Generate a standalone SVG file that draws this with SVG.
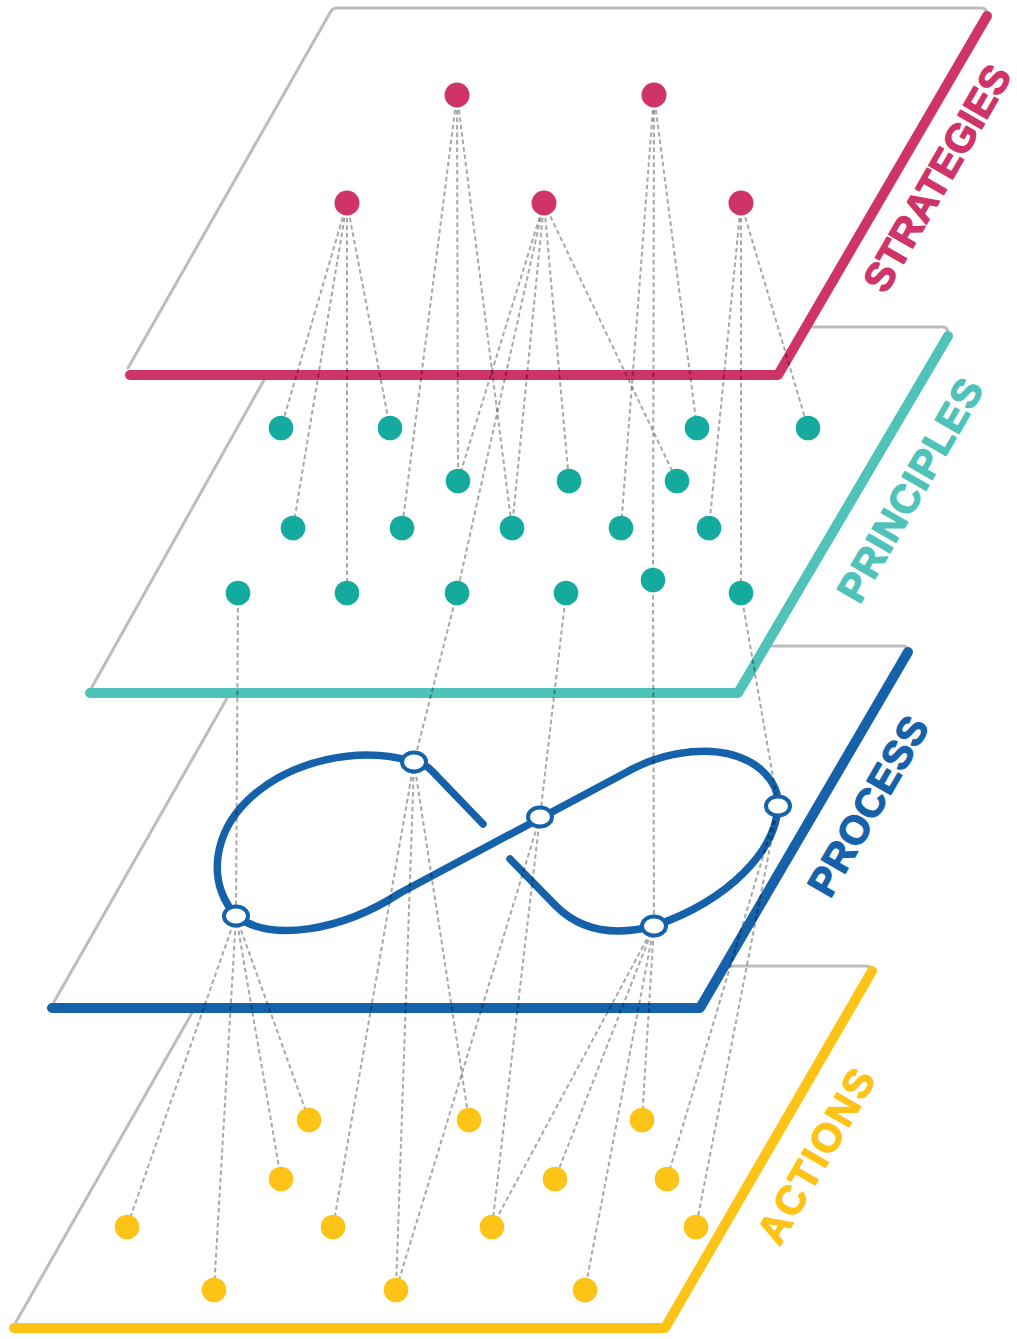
<svg xmlns="http://www.w3.org/2000/svg" width="1017" height="1339" viewBox="0 0 1017 1339">
<style>
.fill{fill:#fff;stroke:none}
.outline{fill:none;stroke:#bdbdbf;stroke-width:3;stroke-linejoin:round;stroke-linecap:round}
.edge{fill:none;stroke-width:10;stroke-linecap:round;stroke-linejoin:round}
#connectors line{stroke:#000;stroke-opacity:.34;stroke-width:2;stroke-dasharray:4.5 3}
.lbl{font-family:"Liberation Sans",Arial,sans-serif;font-weight:bold;font-size:40px;stroke-width:1.4;stroke-linejoin:round}
.s{fill:#cf3469}
.p{fill:#14aa9d}
.a{fill:#fec317}
.n{fill:#fff;stroke:#1562aa;stroke-width:4}
</style>

<g id="plane-actions">
<polygon class="fill" points="14,1328 219,966 871,966 665,1328"/>
<path class="outline" d="M16,1322 L217,969 Q219,966 223,966 L866,966 Q871,966 872,971"/>
<path class="edge" stroke="#fec317" d="M14,1328 L665,1328 L872,971"/>
<text class="lbl" fill="#fec317" stroke="#fec317" text-anchor="middle" textLength="194" lengthAdjust="spacing" transform="translate(816,1156) rotate(-60)" y="14">ACTIONS</text>
</g>

<g id="plane-process">
<polygon class="fill" points="52,1008 257,646 908,646 700,1008"/>
<path class="outline" d="M54,1002 L255,649 Q257,646 261,646 L903,646 Q908,646 908,652"/>
<path class="edge" stroke="#1562aa" d="M52,1008 L700,1008 L908,652"/>
<text class="lbl" fill="#1562aa" stroke="#1562aa" text-anchor="middle" textLength="200" lengthAdjust="spacing" transform="translate(868,806) rotate(-60)" y="14">PROCESS</text>
</g>

<g id="plane-principles">
<polygon class="fill" points="90,693 294,327 948,327 738,693"/>
<path class="outline" d="M92,687 L292,330 Q294,327 298,327 L943,327 Q948,327 948,334"/>
<path class="edge" stroke="#4fc2ba" d="M90,693 L738,693 L948,336"/>
<text class="lbl" fill="#4fc2ba" stroke="#4fc2ba" text-anchor="middle" textLength="250" lengthAdjust="spacing" transform="translate(910,490) rotate(-60)" y="14">PRINCIPLES</text>
</g>

<g id="plane-strategies">
<polygon class="fill" points="128,375 333,8 987,8 778,375"/>
<path class="outline" d="M128,368 L331,11 Q333,8 337,8 L981,8 Q987,8 987,15"/>
<path class="edge" stroke="#cf3469" d="M130,375 L778,375 L987,16"/>
<text class="lbl" fill="#cf3469" stroke="#cf3469" text-anchor="middle" textLength="254" lengthAdjust="spacing" transform="translate(937,178) rotate(-60)" y="14">STRATEGIES</text>
</g>

<g id="process-loop">
<path fill="none" stroke="#1562aa" stroke-width="7.5" stroke-linecap="round" stroke-linejoin="round" d="M483,824 L432,771 Q424,763 414,762 C360,745 290,760 248,800 C215,832 205,880 236,916 C270,942 340,932 400,893 L625,773 C665,750 720,742 755,765 C772,777 779,792 778,806 C776,850 730,900 654,926 C612,937 580,930 556,906 L510,859"/>
</g>

<g id="connectors">
<line x1="347" y1="203" x2="281" y2="428"/>
<line x1="347" y1="203" x2="293" y2="528"/>
<line x1="347" y1="203" x2="347" y2="593"/>
<line x1="347" y1="203" x2="390" y2="428"/>
<line x1="457" y1="95" x2="402" y2="528"/>
<line x1="457" y1="95" x2="458" y2="481"/>
<line x1="457" y1="95" x2="512" y2="528"/>
<line x1="544" y1="203" x2="458" y2="481"/>
<line x1="544" y1="203" x2="457" y2="593"/>
<line x1="544" y1="203" x2="512" y2="528"/>
<line x1="544" y1="203" x2="569" y2="481"/>
<line x1="544" y1="203" x2="677" y2="481"/>
<line x1="654" y1="95" x2="621" y2="528"/>
<line x1="654" y1="95" x2="653" y2="580"/>
<line x1="654" y1="95" x2="697" y2="428"/>
<line x1="741" y1="203" x2="709" y2="528"/>
<line x1="741" y1="203" x2="741" y2="593"/>
<line x1="741" y1="203" x2="808" y2="428"/>
<line x1="238" y1="593" x2="236" y2="916"/>
<line x1="457" y1="593" x2="414" y2="762"/>
<line x1="566" y1="593" x2="540" y2="817"/>
<line x1="653" y1="580" x2="654" y2="926"/>
<line x1="741" y1="593" x2="778" y2="806"/>
<line x1="236" y1="916" x2="127" y2="1227"/>
<line x1="236" y1="916" x2="214" y2="1290"/>
<line x1="236" y1="916" x2="281" y2="1179"/>
<line x1="236" y1="916" x2="309" y2="1120"/>
<line x1="414" y1="762" x2="333" y2="1227"/>
<line x1="414" y1="762" x2="396" y2="1290"/>
<line x1="414" y1="762" x2="469" y2="1120"/>
<line x1="540" y1="817" x2="396" y2="1290"/>
<line x1="540" y1="817" x2="492" y2="1227"/>
<line x1="654" y1="926" x2="492" y2="1227"/>
<line x1="654" y1="926" x2="555" y2="1179"/>
<line x1="654" y1="926" x2="585" y2="1290"/>
<line x1="654" y1="926" x2="642" y2="1120"/>
<line x1="778" y1="806" x2="667" y2="1179"/>
<line x1="778" y1="806" x2="696" y2="1227"/>
</g>

<g id="strategy-nodes">
<g id="s1"><circle class="s" cx="457" cy="95" r="12.5"/></g>
<g id="s2"><circle class="s" cx="654" cy="95" r="12.5"/></g>
<g id="s3"><circle class="s" cx="347" cy="203" r="12.5"/></g>
<g id="s4"><circle class="s" cx="544" cy="203" r="12.5"/></g>
<g id="s5"><circle class="s" cx="741" cy="203" r="12.5"/></g>
</g>

<g id="principle-nodes">
<g id="p1"><circle class="p" cx="281" cy="428" r="12.3"/></g>
<g id="p2"><circle class="p" cx="390" cy="428" r="12.3"/></g>
<g id="p3"><circle class="p" cx="697" cy="428" r="12.3"/></g>
<g id="p4"><circle class="p" cx="808" cy="428" r="12.3"/></g>
<g id="p5"><circle class="p" cx="458" cy="481" r="12.3"/></g>
<g id="p6"><circle class="p" cx="569" cy="481" r="12.3"/></g>
<g id="p7"><circle class="p" cx="677" cy="481" r="12.3"/></g>
<g id="p8"><circle class="p" cx="293" cy="528" r="12.3"/></g>
<g id="p9"><circle class="p" cx="402" cy="528" r="12.3"/></g>
<g id="p10"><circle class="p" cx="512" cy="528" r="12.3"/></g>
<g id="p11"><circle class="p" cx="621" cy="528" r="12.3"/></g>
<g id="p12"><circle class="p" cx="709" cy="528" r="12.3"/></g>
<g id="p13"><circle class="p" cx="238" cy="593" r="12.3"/></g>
<g id="p14"><circle class="p" cx="347" cy="593" r="12.3"/></g>
<g id="p15"><circle class="p" cx="457" cy="593" r="12.3"/></g>
<g id="p16"><circle class="p" cx="566" cy="593" r="12.3"/></g>
<g id="p17"><circle class="p" cx="653" cy="580" r="12.3"/></g>
<g id="p18"><circle class="p" cx="741" cy="593" r="12.3"/></g>
</g>

<g id="process-nodes">
<g id="n1"><ellipse class="n" cx="414" cy="762" rx="12" ry="9.5"/></g>
<g id="n2"><ellipse class="n" cx="540" cy="817" rx="12" ry="9.5"/></g>
<g id="n3"><ellipse class="n" cx="778" cy="806" rx="12" ry="9.5"/></g>
<g id="n4"><ellipse class="n" cx="236" cy="916" rx="12" ry="9.5"/></g>
<g id="n5"><ellipse class="n" cx="654" cy="926" rx="12" ry="9.5"/></g>
</g>

<g id="action-nodes">
<g id="a1"><circle class="a" cx="309" cy="1120" r="12.3"/></g>
<g id="a2"><circle class="a" cx="469" cy="1120" r="12.3"/></g>
<g id="a3"><circle class="a" cx="642" cy="1120" r="12.3"/></g>
<g id="a4"><circle class="a" cx="281" cy="1179" r="12.3"/></g>
<g id="a5"><circle class="a" cx="555" cy="1179" r="12.3"/></g>
<g id="a6"><circle class="a" cx="667" cy="1179" r="12.3"/></g>
<g id="a7"><circle class="a" cx="127" cy="1227" r="12.3"/></g>
<g id="a8"><circle class="a" cx="333" cy="1227" r="12.3"/></g>
<g id="a9"><circle class="a" cx="492" cy="1227" r="12.3"/></g>
<g id="a10"><circle class="a" cx="696" cy="1227" r="12.3"/></g>
<g id="a11"><circle class="a" cx="214" cy="1290" r="12.3"/></g>
<g id="a12"><circle class="a" cx="396" cy="1290" r="12.3"/></g>
<g id="a13"><circle class="a" cx="585" cy="1290" r="12.3"/></g>
</g>
</svg>
